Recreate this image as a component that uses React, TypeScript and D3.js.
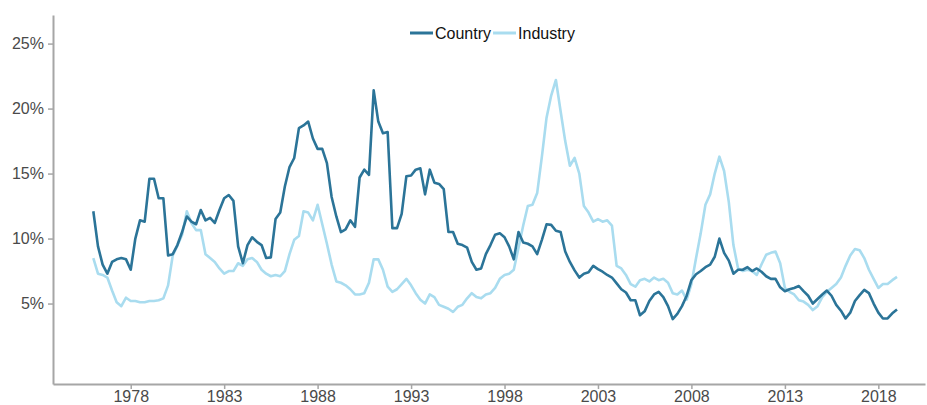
import React, { useRef, useEffect } from 'react';
import * as d3 from 'd3';

// quarterly observations, Jan 1976 .. Jan 2019 (percent)
const country = [
  12.1, 9.4, 8.0, 7.3, 8.2, 8.4, 8.5, 8.4,
  7.6, 10.0, 11.4, 11.3, 14.6, 14.6, 13.1, 13.1,
  8.7, 8.8, 9.5, 10.5, 11.7, 11.3, 11.1, 12.2,
  11.4, 11.6, 11.2, 12.2, 13.1, 13.35, 12.9, 9.4,
  8.1, 9.5, 10.1, 9.75, 9.5, 8.5, 8.55, 11.5,
  12.0, 14.0, 15.5, 16.2, 18.5, 18.7, 19.0, 17.7,
  16.9, 16.9, 15.8, 13.2, 11.7, 10.5, 10.7, 11.4,
  10.9, 14.7, 15.3, 14.9, 21.4, 19.0, 18.1, 18.2,
  10.8, 10.8, 11.9, 14.8, 14.85, 15.3, 15.4, 13.4,
  15.3, 14.3, 14.2, 13.8, 10.5, 10.5, 9.6, 9.5,
  9.3, 8.2, 7.6, 7.7, 8.8, 9.5, 10.3, 10.4,
  10.1, 9.4, 8.4, 10.5, 9.7, 9.6, 9.4, 8.8,
  9.9, 11.1, 11.05, 10.6, 10.5, 9.0, 8.2, 7.55,
  7.0, 7.3, 7.4, 7.9, 7.65, 7.45, 7.2, 7.0,
  6.55, 6.1, 5.85, 5.25, 5.25, 4.1, 4.4, 5.2,
  5.7, 5.9, 5.5, 4.8, 3.8, 4.2, 4.8, 5.6,
  6.8, 7.25, 7.5, 7.8, 8.0, 8.6, 10.0, 8.9,
  8.3, 7.3, 7.6, 7.6, 7.8, 7.5, 7.7, 7.45,
  7.1, 6.9, 6.9, 6.25, 5.95, 6.1, 6.2, 6.35,
  5.95, 5.6, 5.0, 5.35, 5.7, 6.0, 5.6, 4.9,
  4.45, 3.85, 4.3, 5.2, 5.65, 6.05, 5.8, 5.0,
  4.3, 3.85, 3.85, 4.25, 4.55
];

const industry = [
  8.5, 7.3, 7.2, 7.0, 6.0, 5.1, 4.8, 5.45,
  5.2, 5.2, 5.1, 5.1, 5.2, 5.2, 5.25, 5.4,
  6.4, 8.7, 9.45, 10.3, 12.1, 11.2, 10.65, 10.65,
  8.8, 8.5, 8.2, 7.7, 7.3, 7.5, 7.5, 8.1,
  7.9, 8.4, 8.5, 8.2, 7.6, 7.3, 7.1, 7.2,
  7.1, 7.5, 8.8, 9.9, 10.2, 12.1, 12.0, 11.4,
  12.6, 11.1, 9.6, 8.0, 6.7, 6.6, 6.4, 6.1,
  5.7, 5.7, 5.8, 6.6, 8.4, 8.4, 7.6, 6.3,
  5.9, 6.1, 6.5, 6.9, 6.4, 5.8, 5.3, 5.0,
  5.7, 5.5, 4.9, 4.75, 4.6, 4.35, 4.75, 4.9,
  5.4, 5.8, 5.5, 5.4, 5.7, 5.8, 6.2, 6.9,
  7.2, 7.3, 7.6, 9.3, 11.0, 12.5, 12.6, 13.5,
  16.3, 19.3, 21.0, 22.2, 19.8, 17.5, 15.6, 16.2,
  15.0, 12.5, 12.0, 11.3, 11.5, 11.3, 11.4, 11.0,
  7.9, 7.7, 7.2, 6.5, 6.3, 6.8, 6.9, 6.7,
  7.0, 6.8, 6.9, 6.6, 5.8, 5.7, 6.0, 5.3,
  6.5, 8.5, 10.4, 12.6, 13.4, 15.0, 16.3, 15.2,
  12.8, 9.5, 7.7, 7.5, 7.6, 7.5, 7.2, 8.0,
  8.75, 8.9, 9.0, 8.1, 6.2, 5.9, 5.7, 5.25,
  5.15, 4.9, 4.5, 4.8, 5.5, 5.9, 6.2, 6.5,
  7.0, 7.9, 8.7, 9.2, 9.1, 8.5, 7.6, 6.9,
  6.2, 6.5, 6.5, 6.8, 7.05
];

const seriesNames = ['Country', 'Industry'];
const seriesColors = ['#2b7498', '#a9dcef'];
const yTicks = [5, 10, 15, 20, 25];
const xTickYears = [1978, 1983, 1988, 1993, 1998, 2003, 2008, 2013, 2018];

const dates = d3.timeMonth.every(3).range(new Date(1976, 0, 1), new Date(2019, 0, 2));

const W = 927;
const H = 405;

const App = () => {
  const ref = useRef(null);

  useEffect(() => {
    const svg = d3.select(ref.current);
    svg.selectAll('*').remove();

    const x = d3.scaleTime()
      .domain([new Date(1973, 10, 4), new Date(2020, 6, 1)])
      .range([53, 925]);
    const y = d3.scaleLinear()
      .domain([-1.19, 27.2])
      .range([384, 15]);

    const font = '"Liberation Sans", Arial, sans-serif';
    const axisColor = '#a6a6a6';

    const yAxis = svg.append('g')
      .attr('transform', 'translate(53,0)')
      .call(d3.axisLeft(y).tickValues(yTicks).tickSize(5).tickSizeOuter(0)
        .tickFormat(d => d + '%'));
    const xAxis = svg.append('g')
      .attr('transform', 'translate(0,384)')
      .call(d3.axisBottom(x).tickValues(xTickYears.map(yr => new Date(yr, 0, 1)))
        .tickSize(5).tickSizeOuter(0).tickFormat(d3.timeFormat('%Y')));

    [yAxis, xAxis].forEach(g => {
      g.select('.domain').attr('stroke', axisColor).attr('stroke-width', 2);
      g.selectAll('.tick line').attr('stroke', axisColor).attr('stroke-width', 1.5);
      g.selectAll('.tick text')
        .attr('fill', '#4a4a4a')
        .style('font-family', font)
        .style('font-size', '16px');
    });
    yAxis.selectAll('.tick text').attr('x', -9);
    xAxis.selectAll('.tick text').attr('y', 7);

    const line = d3.line()
      .x((d, i) => x(dates[i]))
      .y(d => y(d));

    // industry underneath, country on top
    [industry, country].forEach((vals, k) => {
      svg.append('path')
        .datum(vals)
        .attr('d', line)
        .attr('fill', 'none')
        .attr('stroke', seriesColors[1 - k])
        .attr('stroke-width', 2.6)
        .attr('stroke-linejoin', 'round');
    });

    // legend
    const legend = svg.append('g').attr('transform', 'translate(410,33)');
    let off = 0;
    seriesNames.forEach((name, i) => {
      legend.append('line')
        .attr('x1', off).attr('x2', off + 23)
        .attr('y1', 0).attr('y2', 0)
        .attr('stroke', seriesColors[i])
        .attr('stroke-width', 3);
      const t = legend.append('text')
        .attr('x', off + 25)
        .attr('y', 5.5)
        .attr('fill', '#111')
        .style('font-family', font)
        .style('font-size', '16px')
        .text(name);
      const w = (t.node() as SVGTextElement).getComputedTextLength();
      off += 25 + w + 2;
    });
  }, []);

  return (
    <svg ref={ref} width={W} height={H}
      style={{ position: 'absolute', left: 0, top: 0, background: '#fff' }} />
  );
};

export default App;
